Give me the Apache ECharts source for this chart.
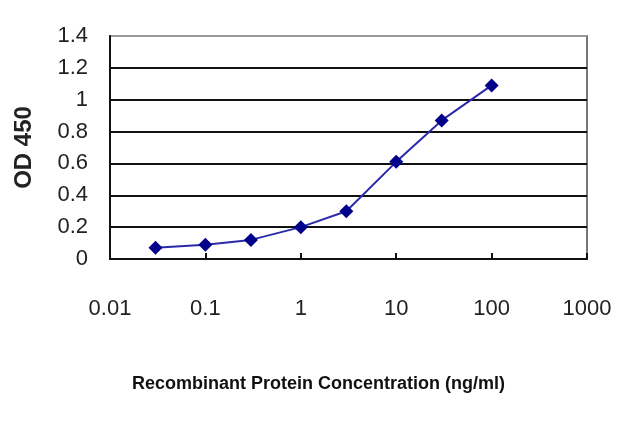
<!DOCTYPE html>
<html>
<head>
<meta charset="utf-8">
<script src="https://cdn.jsdelivr.net/npm/echarts@6/dist/echarts.min.js"></script>
<style>
  html, body { margin: 0; padding: 0; background: #fff; }
  #main { width: 640px; height: 427px; }
</style>
</head>
<body>
<div id="main"></div>
<script>
// concentrations (ng/ml) and OD 450 readings
const concentrations = [0.03, 0.1, 0.3, 1, 3, 10, 30, 100];
const odValues = [0.07, 0.09, 0.12, 0.2, 0.3, 0.61, 0.87, 1.09];
const xTickLabels = ['0.01', '0.1', '1', '10', '100', '1000'];
const yTickLabels = ['0', '0.2', '0.4', '0.6', '0.8', '1', '1.2', '1.4'];

const myChart = echarts.init(document.getElementById('main'));

const option = {
  animation: false,
  grid: {
    left: 110,
    right: 53,
    top: 36,
    bottom: 168,
    show: true,
    borderColor: '#777',
    borderWidth: 2,
  },
  graphic: [
    {
      type: 'text',
      left: 132,
      top: 375,
      style: {
        text: 'Recombinant Protein Concentration (ng/ml)',
        font: 'bold 18px "Liberation Sans", Arial, sans-serif',
        fill: '#111',
      },
    },
  ],
  xAxis: {
    type: 'log',
    logBase: 10,
    min: 0.01,
    max: 1000,
    axisLine: { lineStyle: { color: '#111', width: 2 } },
    axisTick: { inside: true, length: 6, lineStyle: { color: '#111', width: 2 } },
    axisLabel: {
      margin: 39,
      fontFamily: '"Liberation Sans", Arial, sans-serif',
      fontSize: 22,
      color: '#222',
      formatter: (v, i) => xTickLabels[i],
    },
    splitLine: { show: false },
  },
  yAxis: {
    type: 'value',
    min: 0,
    max: 1.4,
    interval: 0.2,
    name: 'OD 450',
    nameLocation: 'middle',
    nameGap: 74,
    nameTextStyle: {
      fontFamily: '"Liberation Sans", Arial, sans-serif',
      fontSize: 24,
      fontWeight: 'bold',
      color: '#222',
    },
    axisLine: { show: true, lineStyle: { color: '#111', width: 2 } },
    axisTick: { show: false },
    axisLabel: {
      margin: 22,
      fontFamily: '"Liberation Sans", Arial, sans-serif',
      fontSize: 22,
      color: '#222',
      formatter: (v, i) => yTickLabels[i],
    },
    splitLine: {
      lineStyle: {
        color: ['#111', '#111', '#111', '#111', '#111', '#111', '#111', '#999'],
        width: 2,
      },
    },
  },
  series: [
    {
      type: 'line',
      data: concentrations.map((c, i) => [c, odValues[i]]),
      symbol: 'diamond',
      symbolSize: 14,
      itemStyle: { color: '#00008b' },
      lineStyle: { color: '#2a2aaa', width: 2 },
    },
  ],
};

myChart.setOption(option);
</script>
</body>
</html>
